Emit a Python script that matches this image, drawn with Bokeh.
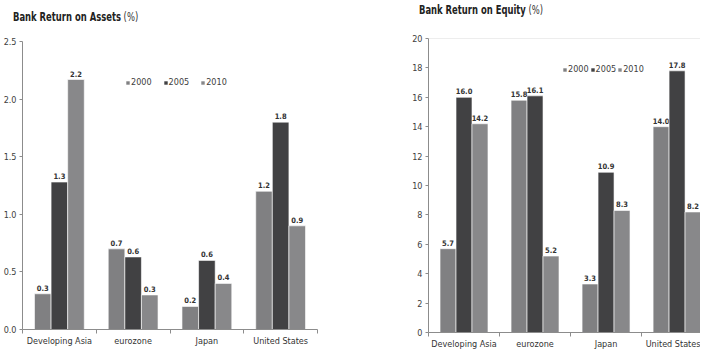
from bokeh.plotting import figure
from bokeh.models import (Range1d, FixedTicker, Legend, LegendItem, Span, Div,
                          ColumnDataSource, NumeralTickFormatter)
from bokeh.layouts import row, column
from bokeh.core.properties import value
from bokeh.embed import file_html
from bokeh.resources import INLINE

categories = ["Developing Asia", "eurozone", "Japan", "United States"]
years = ["2000", "2005", "2010"]
colors = ["#808082", "#414143", "#88888a"]

roa_2000 = [0.31, 0.70, 0.20, 1.20]
roa_2005 = [1.28, 0.63, 0.60, 1.80]
roa_2010 = [2.17, 0.30, 0.40, 0.90]
roa_lbl_2000 = ["0.3", "0.7", "0.2", "1.2"]
roa_lbl_2005 = ["1.3", "0.6", "0.6", "1.8"]
roa_lbl_2010 = ["2.2", "0.3", "0.4", "0.9"]

roe_2000 = [5.7, 15.8, 3.3, 14.0]
roe_2005 = [16.0, 16.1, 10.9, 17.8]
roe_2010 = [14.2, 5.2, 8.3, 8.2]
roe_lbl_2000 = ["5.7", "15.8", "3.3", "14.0"]
roe_lbl_2005 = ["16.0", "16.1", "10.9", "17.8"]
roe_lbl_2010 = ["14.2", "5.2", "8.3", "8.2"]

title_left = "Bank Return on Assets"
title_right = "Bank Return on Equity"
title_unit = "(%)"

FONT = "DejaVu Sans Condensed, Roboto"
CSS_FONT = "'DejaVu Sans Condensed', Roboto, sans-serif"
BAR_W = 0.225
OFFSETS = [-BAR_W, 0.0, BAR_W]


def make_title(text, width, pad_top, pad_left):
    html = (f'<div style="margin:0;padding:{pad_top}px 0 0 {pad_left}px;'
            f'font-family:{CSS_FONT};font-size:12px;line-height:12px;color:#222222;'
            f'white-space:nowrap"><span style="display:inline-block;'
            f'transform:scaleX(0.78);transform-origin:0 50%"><b>{text}</b> '
            f'<span style="color:#333333">{title_unit}</span></span></div>')
    return Div(text=html, width=width, height=28, margin=0)


def make_chart(fw, fh, x_end, y_end, y_step, fmt, series, labels,
               leg_x, leg_y, leg_spacing, borders, top_line=False):
    p = figure(frame_width=fw, frame_height=fh, output_backend="svg", toolbar_location=None,
               x_range=Range1d(-0.5, x_end), y_range=Range1d(0, y_end),
               min_border_left=borders[0], min_border_right=borders[1],
               min_border_top=borders[2], min_border_bottom=borders[3], margin=0)
    p.outline_line_color = None
    p.grid.visible = False
    p.background_fill_color = "white"

    items = []
    for i, (vals, lbls) in enumerate(zip(series, labels)):
        xs = [k + OFFSETS[i] for k in range(len(categories))]
        src = ColumnDataSource(dict(x=xs, top=vals, lbl=lbls))
        r = p.vbar(x="x", top="top", width=BAR_W, source=src, fill_color=colors[i],
                   line_color="white", line_width=0.6)
        p.text(x="x", y="top", text="lbl", source=src, text_align="center",
               text_baseline="bottom", y_offset=-3, text_font_size="7.5px",
               text_font_style="bold", text_color="#333333", text_font=value(FONT))
        items.append(LegendItem(label=years[i], renderers=[r]))

    xa = p.xaxis[0]
    xa.ticker = FixedTicker(ticks=list(range(len(categories))),
                            minor_ticks=[k - 0.5 for k in range(len(categories) + 1)])
    xa.major_label_overrides = {k: c for k, c in enumerate(categories)}
    xa.major_tick_out = 0
    xa.major_tick_in = 0
    xa.minor_tick_out = 4
    xa.minor_tick_in = 0
    xa.axis_line_color = "#8c8c8c"
    xa.minor_tick_line_color = "#8c8c8c"
    xa.major_label_text_font = FONT
    xa.major_label_text_font_size = "9px"
    xa.major_label_text_color = "#333333"
    xa.major_label_standoff = 2

    ya = p.yaxis[0]
    ya.ticker = FixedTicker(ticks=[y_step * k for k in range(int(round(y_end / y_step)) + 1)])
    ya.formatter = NumeralTickFormatter(format=fmt)
    ya.major_tick_out = 3
    ya.major_tick_in = 0
    ya.axis_line_color = "#8c8c8c"
    ya.major_tick_line_color = "#8c8c8c"
    ya.major_label_text_font = FONT
    ya.major_label_text_font_size = "9px"
    ya.major_label_text_color = "#404040"
    ya.major_label_standoff = 3

    if top_line:
        p.add_layout(Span(location=y_end, dimension="width", line_color="#dcdcdc",
                          line_width=1))

    leg = Legend(items=items, orientation="horizontal", location=(leg_x, leg_y),
                 glyph_width=5, glyph_height=5, label_standoff=1, spacing=leg_spacing,
                 padding=0, margin=0, border_line_color=None, background_fill_alpha=0,
                 label_text_font=FONT, label_text_font_size="9px",
                 label_text_color="#404040", label_height=10)
    p.add_layout(leg, "center")
    return p


left = make_chart(295, 288, 3.5, 2.5, 0.5, "0.0",
                  [roa_2000, roa_2005, roa_2010],
                  [roa_lbl_2000, roa_lbl_2005, roa_lbl_2010],
                  103, 242, 11, (21, 31, 13, 17))
right = make_chart(272, 294, 3.33, 20, 2, "0",
                   [roe_2000, roe_2005, roe_2010],
                   [roe_lbl_2000, roe_lbl_2005, roe_lbl_2010],
                   134, 258, 1, (78, 0, 10, 17), top_line=True)

layout = row(column(make_title(title_left, 350, 11, 13), left),
             column(make_title(title_right, 350, 4, 69), right))
open("out.html", "w").write(file_html(layout, INLINE))
